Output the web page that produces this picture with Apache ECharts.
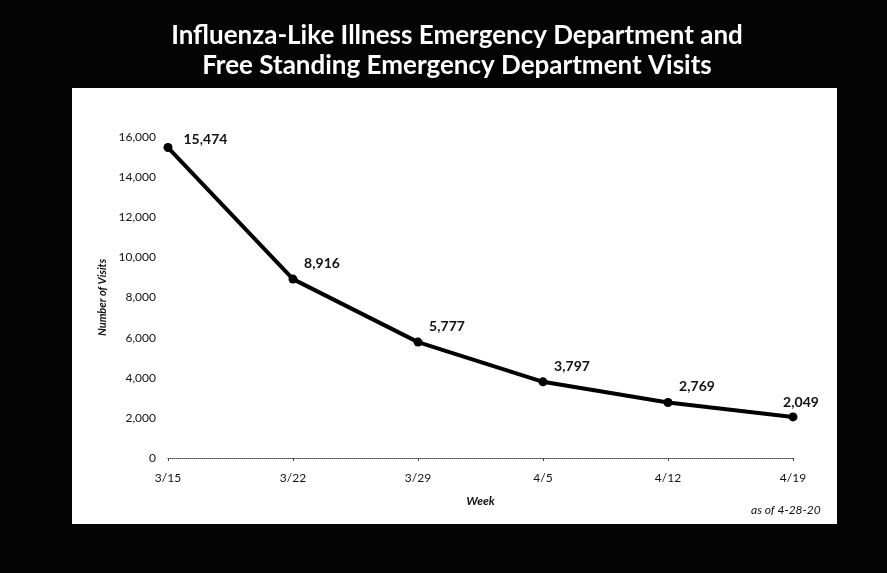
<!DOCTYPE html>
<html>
<head>
<meta charset="utf-8">
<script src="https://cdn.jsdelivr.net/npm/echarts@6/dist/echarts.min.js"></script>
<style>
  html, body { margin: 0; padding: 0; background: #000; }
  #chart { width: 887px; height: 573px; }
</style>
</head>
<body>
<div id="chart"></div>
<script>
const weeks = ['3/15', '3/22', '3/29', '4/5', '4/12', '4/19']
const visits = [15474, 8916, 5777, 3797, 2769, 2049]
const yTicks = { min: 0, max: 16000, interval: 2000 }

const font = 'Lato, "Open Sans", sans-serif'
const chart = echarts.init(document.getElementById('chart'))

// first and last labels sit differently in the original
function labelFor(i) {
  if (i === 0) return { position: 'right', offset: [6, -8] }
  if (i === weeks.length - 1) return { offset: [8, 2] }
  return undefined
}

chart.setOption({
  backgroundColor: '#040404',
  animation: false,
  title: {
    text: 'Influenza-Like Illness Emergency Department and\nFree Standing Emergency Department Visits',
    left: 452,
    top: 16,
    textAlign: 'center',
    textStyle: { color: '#fff', fontFamily: font, fontWeight: 'bold', fontSize: 26, lineHeight: 30 },
  },
  graphic: [
    {
      type: 'rect',
      z: -10,
      shape: { x: 72, y: 88, width: 765, height: 436 },
      style: { fill: '#fff' },
    },
    {
      type: 'text',
      left: 751,
      top: 504,
      style: { text: 'as of 4-28-20', fill: '#111', font: 'italic 12px ' + font },
    },
  ],
  grid: { left: 168, right: 94, top: 137, bottom: 115 },
  xAxis: {
    type: 'category',
    data: weeks,
    boundaryGap: false,
    name: 'Week',
    nameLocation: 'middle',
    nameGap: 37,
    nameTextStyle: { color: '#111', fontFamily: font, fontStyle: 'italic', fontWeight: 'bold', fontSize: 12 },
    axisLine: { lineStyle: { color: '#444', width: 1, type: 'dotted' } },
    axisTick: { alignWithLabel: true, length: 3, lineStyle: { color: '#444' } },
    axisLabel: { color: '#111', fontFamily: font, fontSize: 12, margin: 14 },
  },
  yAxis: {
    type: 'value',
    min: yTicks.min,
    max: yTicks.max,
    interval: yTicks.interval,
    name: 'Number of Visits',
    nameLocation: 'middle',
    nameGap: 60,
    nameRotate: 90,
    nameTextStyle: { color: '#111', fontFamily: font, fontStyle: 'italic', fontWeight: 'bold', fontSize: 11 },
    axisLine: { show: false },
    axisTick: { show: false },
    splitLine: { show: false },
    axisLabel: {
      color: '#111',
      fontFamily: font,
      fontSize: 12,
      margin: 12,
      formatter: (v) => v.toLocaleString('en-US'),
    },
  },
  series: [
    {
      type: 'line',
      data: visits.map((v, i) => ({ value: v, label: labelFor(i) })),
      symbol: 'circle',
      symbolSize: 9,
      lineStyle: { color: '#000', width: 4 },
      itemStyle: { color: '#000' },
      label: {
        show: true,
        position: 'top',
        offset: [29, 1],
        color: '#111',
        fontFamily: font,
        fontWeight: 'bold',
        fontSize: 14,
        formatter: (p) => p.value.toLocaleString('en-US'),
      },
    },
  ],
})
</script>
</body>
</html>
